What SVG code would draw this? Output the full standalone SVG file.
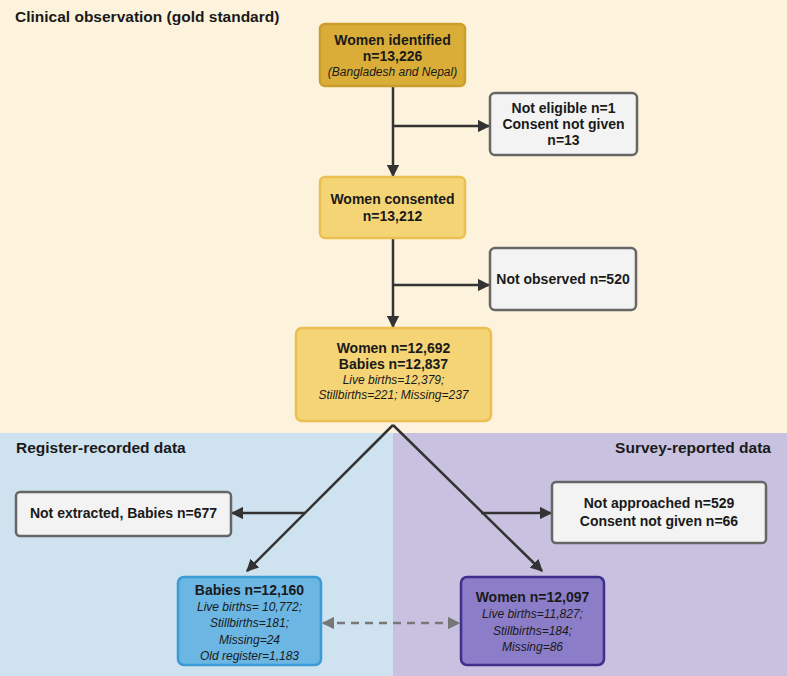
<svg xmlns="http://www.w3.org/2000/svg" width="787" height="676" viewBox="0 0 787 676">
<style>
text{font-family:"Liberation Sans",Arial,sans-serif;fill:#1a1a1a;text-anchor:middle}
.b{font-weight:bold;font-size:14px}
.i{font-style:italic;font-size:12px}
.h{font-size:15.5px;font-weight:bold;text-anchor:start}
.grey{fill:#f3f3f3;stroke:#666;stroke-width:2.5}
.ln{stroke:#333;stroke-width:2.5;fill:none}
</style>
<defs>
<marker id="ah" viewBox="0 0 10 10" refX="9" refY="5" markerWidth="5" markerHeight="5" orient="auto" markerUnits="strokeWidth">
<path d="M0,0 L10,5 L0,10 z" fill="#333"/>
</marker>
<marker id="ag" viewBox="0 0 10 10" refX="9" refY="5" markerWidth="5" markerHeight="5" orient="auto-start-reverse" markerUnits="strokeWidth">
<path d="M0,0 L10,5 L0,10 z" fill="#777"/>
</marker>
</defs>
<rect x="0" y="0" width="787" height="433" fill="#fdf3dc"/>
<rect x="0" y="433" width="393" height="243" fill="#cfe2ef"/>
<rect x="393" y="433" width="394" height="243" fill="#c8c2e0"/>
<text class="h" x="15" y="22">Clinical observation (gold standard)</text>
<text class="h" x="16" y="453">Register-recorded data</text>
<text class="h" x="771" y="453" style="text-anchor:end">Survey-reported data</text>
<g id="connectors">
<line class="ln" x1="393" y1="86" x2="393" y2="176" marker-end="url(#ah)"/>
<line class="ln" x1="393" y1="126" x2="489" y2="126" marker-end="url(#ah)"/>
<line class="ln" x1="393" y1="238" x2="393" y2="327" marker-end="url(#ah)"/>
<line class="ln" x1="393" y1="285" x2="489" y2="285" marker-end="url(#ah)"/>
<line class="ln" x1="393" y1="425" x2="247" y2="571" marker-end="url(#ah)"/>
<line class="ln" x1="393" y1="425" x2="542" y2="571" marker-end="url(#ah)"/>
<line class="ln" x1="305" y1="513" x2="232" y2="513" marker-end="url(#ah)"/>
<line class="ln" x1="481" y1="513" x2="551" y2="513" marker-end="url(#ah)"/>
<line x1="323" y1="623" x2="459" y2="623" stroke="#777" stroke-width="2.5" stroke-dasharray="8,6" marker-start="url(#ag)" marker-end="url(#ag)"/>
</g>
<g id="n1">
<rect x="320" y="24" width="145" height="62" rx="5" fill="#d9ad38" stroke="#c99e2c" stroke-width="2.5"/>
<text class="b" x="392.5" y="45">Women identified</text>
<text class="b" x="392.5" y="61">n=13,226</text>
<text class="i" x="392.5" y="76">(Bangladesh and Nepal)</text>
</g>
<g id="n2">
<rect class="grey" x="490" y="93" width="147" height="62" rx="5"/>
<text class="b" x="563.5" y="113">Not eligible n=1</text>
<text class="b" x="563.5" y="129">Consent not given</text>
<text class="b" x="563.5" y="145">n=13</text>
</g>
<g id="n3">
<rect x="320" y="177" width="145" height="61" rx="5" fill="#f5d476" stroke="#eac052" stroke-width="2.5"/>
<text class="b" x="392.5" y="204">Women consented</text>
<text class="b" x="392.5" y="221">n=13,212</text>
</g>
<g id="n4">
<rect class="grey" x="490" y="248" width="146" height="62" rx="5"/>
<text class="b" x="563" y="284">Not observed n=520</text>
</g>
<g id="n5">
<rect x="296" y="328" width="195" height="93" rx="6" fill="#f5d476" stroke="#eac052" stroke-width="2.5"/>
<text class="b" x="393.5" y="353">Women n=12,692</text>
<text class="b" x="393.5" y="369">Babies n=12,837</text>
<text class="i" x="393.5" y="384">Live births=12,379;</text>
<text class="i" x="393.5" y="399">Stillbirths=221; Missing=237</text>
</g>
<g id="n6">
<rect class="grey" x="16" y="492" width="215" height="44" rx="4"/>
<text class="b" x="123.5" y="518">Not extracted, Babies n=677</text>
</g>
<g id="n7">
<rect class="grey" x="552" y="482" width="214" height="61" rx="4"/>
<text class="b" x="659" y="508">Not approached n=529</text>
<text class="b" x="659" y="526">Consent not given n=66</text>
</g>
<g id="n8">
<rect x="178" y="577" width="143" height="88" rx="6" fill="#6bb6e3" stroke="#3a9bd6" stroke-width="2.5"/>
<text class="b" x="249.5" y="595">Babies n=12,160</text>
<text class="i" x="249.5" y="611">Live births= 10,772;</text>
<text class="i" x="249.5" y="627">Stillbirths=181;</text>
<text class="i" x="249.5" y="644">Missing=24</text>
<text class="i" x="249.5" y="660">Old register=1,183</text>
</g>
<g id="n9">
<rect x="461" y="577" width="143" height="88" rx="6" fill="#8b7dc8" stroke="#3e2f8a" stroke-width="2.5"/>
<text class="b" x="532.5" y="602">Women n=12,097</text>
<text class="i" x="532.5" y="618">Live births=11,827;</text>
<text class="i" x="532.5" y="635">Stillbirths=184;</text>
<text class="i" x="532.5" y="651">Missing=86</text>
</g>
</svg>
